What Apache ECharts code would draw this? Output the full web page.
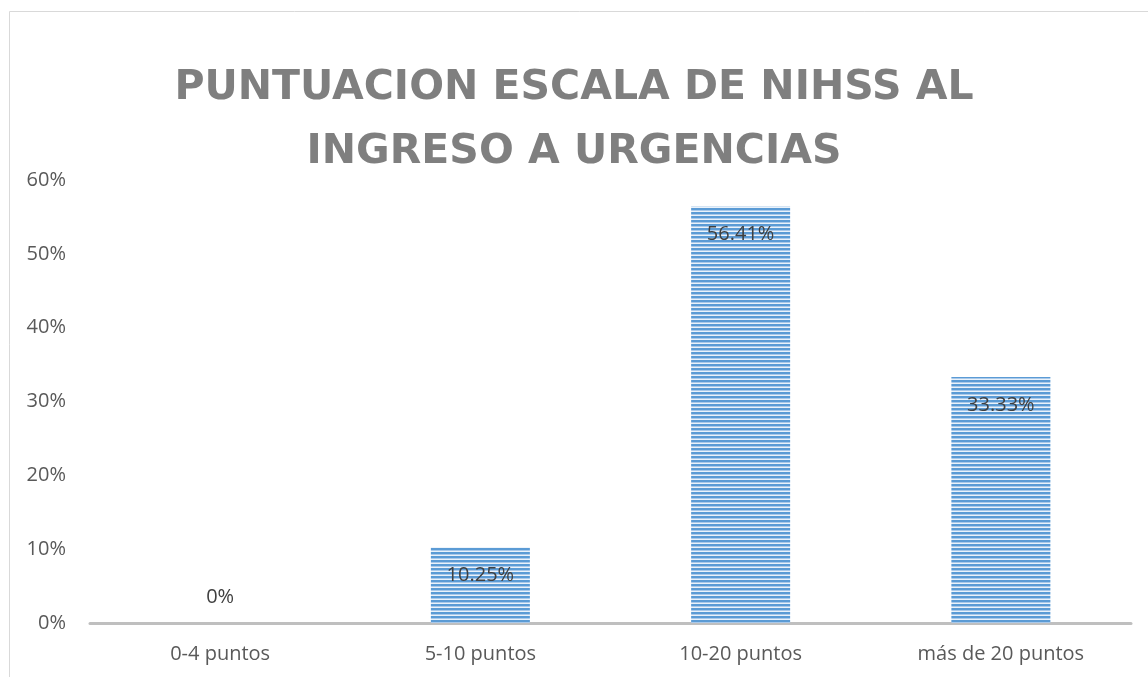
<!DOCTYPE html>
<html>
<head>
<meta charset="utf-8">
<script src="https://cdn.jsdelivr.net/npm/echarts@6/dist/echarts.min.js"></script>
<style>
  html, body { margin: 0; padding: 0; background: #fff; }
  #main { width: 1148px; height: 677px; }
</style>
</head>
<body>
<div id="main"></div>
<script>
// datos
var categorias = ['0-4 puntos', '5-10 puntos', '10-20 puntos', 'más de 20 puntos'];
var porcentajes = [0, 10.25, 56.41, 33.33];
var etiquetas = ['0%', '10.25%', '56.41%', '33.33%'];

// relleno rayado horizontal como en excel
function patron() {
  var c = document.createElement('canvas');
  c.width = 4;
  c.height = 4;
  var ctx = c.getContext('2d');
  ctx.fillStyle = '#5b9bd5';
  ctx.fillRect(0, 0, 4, 2);
  ctx.fillStyle = '#a9c9ea';
  ctx.fillRect(0, 2, 4, 1);
  ctx.fillStyle = '#eaf2fa';
  ctx.fillRect(0, 3, 4, 1);
  return c;
}

var myChart = echarts.init(document.getElementById('main'));

var datos = [];
for (var i = 0; i < porcentajes.length; i++) {
  var item = { value: porcentajes[i] };
  if (porcentajes[i] === 0) {
    // excel pone el 0% encima del eje
    item.label = { position: 'top', distance: 16 };
  }
  datos.push(item);
}

var option = {
  animation: false,
  title: {
    text: 'PUNTUACION ESCALA DE NIHSS AL\nINGRESO A URGENCIAS',
    left: 'center',
    top: 51,
    textStyle: {
      fontFamily: 'DejaVu Sans',
      fontWeight: 'bold',
      fontSize: 41,
      lineHeight: 64,
      color: '#7f7f7f'
    }
  },
  graphic: [{
    type: 'rect',
    shape: { x: 9.5, y: 11.5, width: 1200, height: 700 },
    style: { fill: 'none', stroke: '#d9d9d9', lineWidth: 1 },
    silent: true
  }],
  grid: {
    left: 90,
    right: 17,
    top: 180,
    bottom: 54
  },
  xAxis: {
    type: 'category',
    data: categorias,
    axisLine: { lineStyle: { color: '#bfbfbf', width: 3 } },
    axisTick: { show: false },
    axisLabel: {
      color: '#595959',
      fontFamily: 'Open Sans',
      fontSize: 20,
      margin: 21
    }
  },
  yAxis: {
    type: 'value',
    min: 0,
    max: 60,
    interval: 10,
    axisLine: { show: false },
    axisTick: { show: false },
    splitLine: { show: false },
    axisLabel: {
      color: '#595959',
      fontFamily: 'Open Sans',
      fontSize: 20,
      margin: 24,
      formatter: '{value}%'
    }
  },
  series: [{
    type: 'bar',
    data: datos,
    barWidth: 99,
    itemStyle: {
      color: { image: patron(), repeat: 'repeat' }
    },
    label: {
      show: true,
      position: 'insideTop',
      distance: 18,
      color: '#404040',
      fontFamily: 'Open Sans',
      fontSize: 20,
      formatter: function (p) {
        return etiquetas[p.dataIndex];
      }
    }
  }]
};

option && myChart.setOption(option);
</script>
</body>
</html>
